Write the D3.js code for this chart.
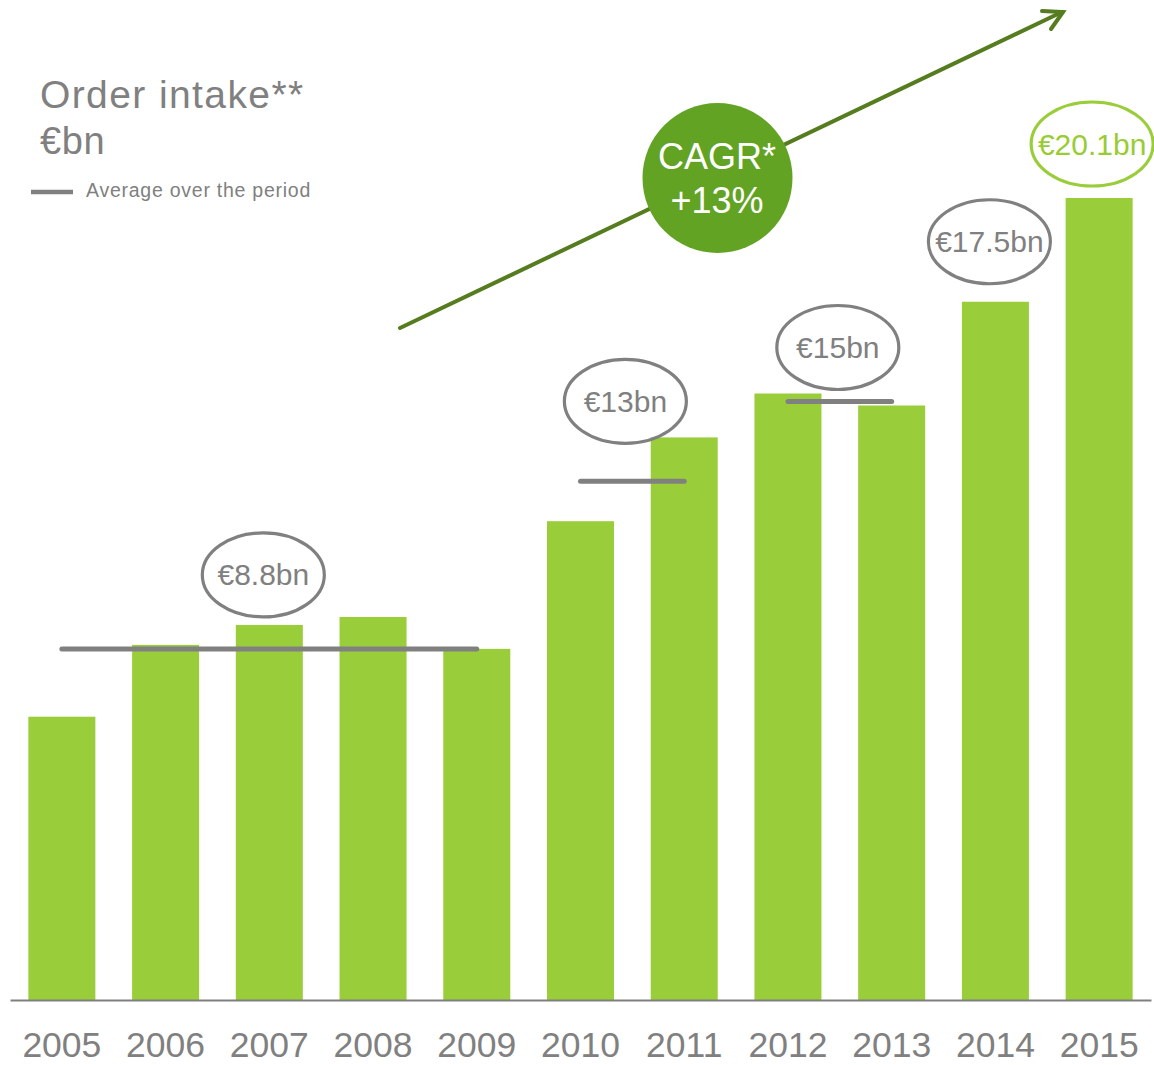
<!DOCTYPE html>
<html>
<head>
<meta charset="utf-8">
<script src="https://cdn.jsdelivr.net/npm/d3@7"></script>
<style>
  html, body { margin: 0; padding: 0; background: #ffffff; }
  svg { display: block; font-family: "Liberation Sans", Arial, sans-serif; }
</style>
</head>
<body>
<svg id="chart" width="1154" height="1065"></svg>
<script>
// Order intake per year, €bn
const years = ["2005", "2006", "2007", "2008", "2009", "2010", "2011", "2012", "2013", "2014", "2015"];
const orderIntake = [7.1, 8.9, 9.4, 9.6, 8.8, 12.0, 14.1, 15.2, 14.9, 17.5, 20.1];

// Period averages (first year, last year, value)
const avgStart = ["2005", "2010", "2012"];
const avgEnd = ["2009", "2011", "2013"];
const avgValue = [8.8, 13, 15];

// Single-year callouts
const calloutYears = ["2014", "2015"];
const calloutValues = [17.5, 20.1];

const cagrLabel = ["CAGR*", "+13%"];

const GRAY = "#808080";
const BAR = "#9acd3a";
const DARK = "#62a324";
const ARROW = "#557c1e";

const svg = d3.select("#chart");

const x = d3.scaleBand()
  .domain(years)
  .range([10, 1151])
  .paddingInner(0.354)
  .paddingOuter(0.177);

const y = d3.scaleLinear()
  .domain([0, 20.1])
  .range([1000, 198]);

const cx = yr => x(yr) + x.bandwidth() / 2;

// Bars
svg.append("g")
  .selectAll("rect")
  .data(years)
  .join("rect")
  .attr("x", d => x(d))
  .attr("width", x.bandwidth())
  .attr("y", (d, i) => y(orderIntake[i]))
  .attr("height", (d, i) => y(0) - y(orderIntake[i]))
  .attr("fill", BAR);

// Baseline axis with year labels
const axis = svg.append("g")
  .attr("transform", `translate(0,${y(0)})`)
  .call(d3.axisBottom(x).tickSize(0).tickSizeOuter(0).tickPadding(32));
axis.select(".domain").attr("stroke", GRAY).attr("stroke-width", 2);
axis.selectAll("text")
  .attr("fill", GRAY)
  .attr("font-size", 35.5)
  .attr("font-family", "'Liberation Sans', Arial, sans-serif");

// Average lines
svg.append("g")
  .selectAll("line")
  .data(avgValue)
  .join("line")
  .attr("x1", (d, i) => cx(avgStart[i]))
  .attr("x2", (d, i) => cx(avgEnd[i]))
  .attr("y1", d => y(d))
  .attr("y2", d => y(d))
  .attr("stroke", GRAY)
  .attr("stroke-width", 5)
  .attr("stroke-linecap", "round");

// Callout ellipses
const callouts = avgValue.map((v, i) => ({
  value: v,
  cx: (cx(avgStart[i]) + cx(avgEnd[i])) / 2,
  color: GRAY
})).concat(calloutValues.map((v, i) => ({
  value: v,
  cx: cx(calloutYears[i]),
  color: i === calloutValues.length - 1 ? BAR : GRAY
})));
const shiftX = [-6, -7, -2, -6, -7];
const lift = [74, 80, 54, 60, 54];

const cg = svg.append("g")
  .selectAll("g")
  .data(callouts)
  .join("g")
  .attr("transform", (d, i) => `translate(${d.cx + shiftX[i]},${y(d.value) - lift[i]})`);
cg.append("ellipse")
  .attr("rx", 61)
  .attr("ry", 42)
  .attr("fill", "none")
  .attr("stroke", d => d.color)
  .attr("stroke-width", 3.2);
cg.append("text")
  .attr("text-anchor", "middle")
  .attr("y", 10.5)
  .attr("font-size", 30)
  .attr("fill", d => d.color === BAR ? "#99cc33" : GRAY)
  .text(d => "€" + d.value + "bn");

// CAGR growth arrow
const arrow = svg.append("g")
  .attr("stroke", ARROW)
  .attr("stroke-width", 4)
  .attr("stroke-linecap", "round")
  .attr("fill", "none");
arrow.append("line")
  .attr("x1", 400).attr("y1", 328)
  .attr("x2", 1062).attr("y2", 12);
arrow.append("path")
  .attr("d", "M1042,11 L1063,12 L1051,29");

// CAGR badge
svg.append("circle")
  .attr("cx", 717.5)
  .attr("cy", 178)
  .attr("r", 75)
  .attr("fill", DARK);
svg.append("g")
  .selectAll("text")
  .data(cagrLabel)
  .join("text")
  .attr("x", 717)
  .attr("y", (d, i) => 169 + i * 44)
  .attr("text-anchor", "middle")
  .attr("font-size", 36)
  .attr("fill", "#ffffff")
  .text(d => d);

// Title and legend
svg.append("text")
  .attr("x", 40).attr("y", 108)
  .attr("font-size", 39)
  .attr("letter-spacing", 1.4)
  .attr("fill", GRAY)
  .text("Order intake**");
svg.append("text")
  .attr("x", 40).attr("y", 154)
  .attr("font-size", 38)
  .attr("letter-spacing", 0.6)
  .attr("fill", GRAY)
  .text("€bn");
svg.append("line")
  .attr("x1", 31).attr("x2", 73)
  .attr("y1", 192).attr("y2", 192)
  .attr("stroke", GRAY)
  .attr("stroke-width", 4.5);
svg.append("text")
  .attr("x", 86).attr("y", 197)
  .attr("font-size", 19.5)
  .attr("letter-spacing", 0.75)
  .attr("fill", GRAY)
  .text("Average over the period");
</script>
</body>
</html>
